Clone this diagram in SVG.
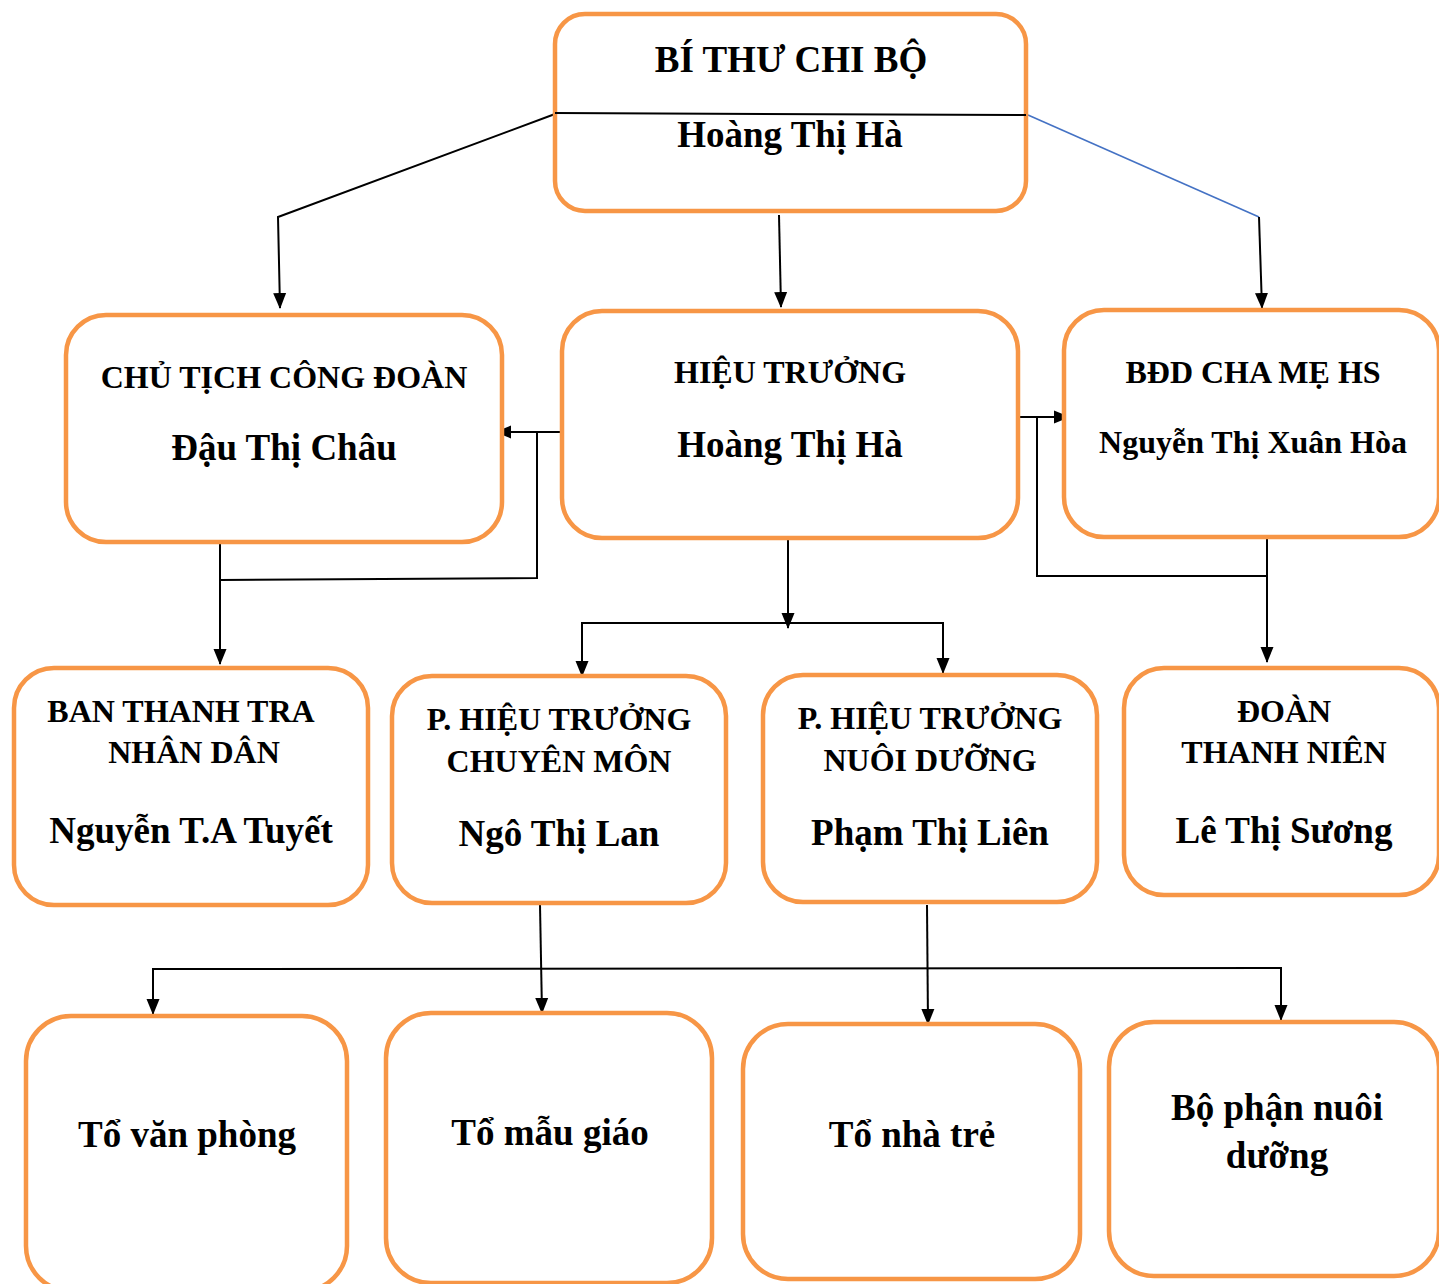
<svg xmlns="http://www.w3.org/2000/svg" width="1439" height="1284" viewBox="0 0 1439 1284">
<style>
.box{fill:#ffffff;stroke:#F79646;stroke-width:4.5}
.t{font-family:"Liberation Serif","Times New Roman",serif;font-weight:bold;fill:#000;text-anchor:middle}
.s31{font-size:32px}
.s36{font-size:37px}
.s35{font-size:37px}
.c{fill:none;stroke:#000;stroke-width:2}
.cb{fill:none;stroke:#4472C4;stroke-width:1.6}
</style>
<defs>
<marker id="ah" markerUnits="userSpaceOnUse" markerWidth="16" markerHeight="16" viewBox="0 0 16 16" refX="15" refY="8" orient="auto">
<path d="M0,1.5 L16,8 L0,14.5 Z" fill="#000"/>
</marker>
</defs>
<g id="connectors">
<polyline class="c" points="555,114 278,217 280,308" marker-end="url(#ah)"/>
<line class="c" x1="779" y1="215" x2="781" y2="307" marker-end="url(#ah)"/>
<line class="cb" x1="1028" y1="115" x2="1259" y2="217"/>
<line class="c" x1="1259" y1="217" x2="1262" y2="308" marker-end="url(#ah)"/>
<line class="c" x1="562" y1="432" x2="496" y2="432" marker-end="url(#ah)"/>
<polyline class="c" points="537,432 537,578 220,580"/>
<line class="c" x1="220" y1="542" x2="220" y2="664" marker-end="url(#ah)"/>
<line class="c" x1="1020" y1="417" x2="1069" y2="417" marker-end="url(#ah)"/>
<polyline class="c" points="1037,418 1037,576 1267,576"/>
<line class="c" x1="1267" y1="538" x2="1267" y2="662" marker-end="url(#ah)"/>
<line class="c" x1="788" y1="539" x2="788" y2="628" marker-end="url(#ah)"/>
<polyline class="c" points="582,675 582,623 943,623 943,673" marker-end="url(#ah)"/>
<polyline class="c" points="582,623 582,676" marker-end="url(#ah)"/>
<line class="c" x1="540" y1="905" x2="542" y2="1013" marker-end="url(#ah)"/>
<line class="c" x1="927" y1="905" x2="928" y2="1024" marker-end="url(#ah)"/>
<polyline class="c" points="153,1013 153,969 1281,968 1281,1020" marker-end="url(#ah)"/>
<polyline class="c" points="153,969 153,1014" marker-end="url(#ah)"/>
</g>
<g id="bi-thu">
<rect class="box" x="555" y="14" width="471" height="197" rx="30"/>
<line x1="555" y1="113" x2="1026" y2="115" stroke="#000" stroke-width="2"/>
<text class="t s36" x="791" y="72">BÍ THƯ CHI BỘ</text>
<text class="t s36" x="790" y="147">Hoàng Thị Hà</text>
</g>
<g id="chu-tich">
<rect class="box" x="66" y="315" width="436" height="227" rx="40"/>
<text class="t s31" x="284" y="388">CHỦ TỊCH CÔNG ĐOÀN</text>
<text class="t s36" x="284" y="460">Đậu Thị Châu</text>
</g>
<g id="hieu-truong">
<rect class="box" x="562" y="311" width="456" height="227" rx="40"/>
<text class="t s31" x="790" y="383">HIỆU TRƯỞNG</text>
<text class="t s36" x="790" y="457">Hoàng Thị Hà</text>
</g>
<g id="bdd">
<rect class="box" x="1064" y="310" width="375" height="227" rx="40"/>
<text class="t s31" x="1253" y="383">BĐD CHA MẸ HS</text>
<text class="t s31" x="1253" y="453">Nguyễn Thị Xuân Hòa</text>
</g>
<g id="ban-thanh-tra">
<rect class="box" x="14" y="668" width="354" height="237" rx="40"/>
<text class="t s31" x="181" y="722">BAN THANH TRA</text>
<text class="t s31" x="194" y="763">NHÂN DÂN</text>
<text class="t s36" x="191" y="843">Nguyễn T.A Tuyết</text>
</g>
<g id="pht-chuyen-mon">
<rect class="box" x="392" y="676" width="334" height="227" rx="40"/>
<text class="t s31" x="559" y="730">P. HIỆU TRƯỞNG</text>
<text class="t s31" x="559" y="772">CHUYÊN MÔN</text>
<text class="t s36" x="559" y="846">Ngô Thị Lan</text>
</g>
<g id="pht-nuoi-duong">
<rect class="box" x="763" y="675" width="334" height="227" rx="40"/>
<text class="t s31" x="930" y="729">P. HIỆU TRƯỞNG</text>
<text class="t s31" x="930" y="771">NUÔI DƯỠNG</text>
<text class="t s36" x="930" y="845">Phạm Thị Liên</text>
</g>
<g id="doan-thanh-nien">
<rect class="box" x="1124" y="668" width="315" height="227" rx="40"/>
<text class="t s31" x="1284" y="722">ĐOÀN</text>
<text class="t s31" x="1284" y="763">THANH NIÊN</text>
<text class="t s36" x="1284" y="843">Lê Thị Sương</text>
</g>
<g id="to-van-phong">
<rect class="box" x="26" y="1016" width="321" height="275" rx="45"/>
<text class="t s35" x="187" y="1147">Tổ văn phòng</text>
</g>
<g id="to-mau-giao">
<rect class="box" x="386" y="1013" width="326" height="270" rx="45"/>
<text class="t s35" x="550" y="1145">Tổ mẫu giáo</text>
</g>
<g id="to-nha-tre">
<rect class="box" x="743" y="1024" width="337" height="255" rx="45"/>
<text class="t s35" x="912" y="1147">Tổ nhà trẻ</text>
</g>
<g id="bo-phan-nuoi-duong">
<rect class="box" x="1109" y="1022" width="330" height="254" rx="45"/>
<text class="t s35" x="1277" y="1120">Bộ phận nuôi</text>
<text class="t s35" x="1277" y="1168">dưỡng</text>
</g>
</svg>
